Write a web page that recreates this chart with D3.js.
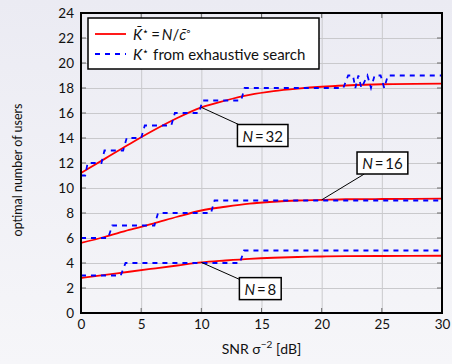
<!DOCTYPE html>
<html>
<head>
<meta charset="utf-8">
<script src="https://cdn.jsdelivr.net/npm/d3@7"></script>
<style>
  html, body { margin: 0; padding: 0; }
  body { width: 452px; height: 364px; overflow: hidden; }
  svg { display: block; }
  text { font-family: Lato, "Liberation Sans", sans-serif; fill: #111; }
</style>
</head>
<body>
<svg id="chart" width="452" height="364"></svg>
<script>
// ---------- data ----------
const xTickValues = [0, 5, 10, 15, 20, 25, 30];
const yTickValues = [0, 2, 4, 6, 8, 10, 12, 14, 16, 18, 20, 22, 24];

// analytic approximation  K̄* = N / c̄°  (red, smooth)
const snrSmooth = [0, 2, 4, 6, 8, 10, 12, 14, 16, 18, 20, 22, 25, 30];
const kbar32 = [11.2, 12.35, 13.5, 14.6, 15.6, 16.45, 17.0, 17.45, 17.75, 17.95, 18.1, 18.2, 18.3, 18.35];
const kbar16 = [5.6, 6.1, 6.65, 7.15, 7.7, 8.2, 8.5, 8.75, 8.9, 9.0, 9.05, 9.1, 9.12, 9.15];
const kbar8  = [2.8, 3.05, 3.3, 3.55, 3.8, 4.05, 4.2, 4.33, 4.42, 4.48, 4.52, 4.55, 4.56, 4.58];

// exhaustive search K* (blue, dashed step curves)
const snr32 = [0, 0.35, 0.55, 1.7, 1.95, 3.5, 3.8, 5.0, 5.3, 7.5, 7.8, 9.8, 10.1, 13.3, 13.6, 21.8, 22.2, 22.6, 22.8, 23.05, 23.3, 23.8, 24.1, 24.4, 24.9, 25.2, 25.5, 30];
const kstar32 = [11, 11, 12, 12, 13, 13, 14, 14, 15, 15, 16, 16, 17, 17, 18, 18, 19, 19, 18, 19, 18, 19, 18, 19, 19, 18, 19, 19];
const snr16 = [0, 2.25, 2.6, 6.1, 6.4, 10.8, 11.1, 30];
const kstar16 = [6, 6, 7, 7, 8, 8, 9, 9];
const snr8 = [0, 3.3, 3.7, 13.2, 13.55, 30];
const kstar8 = [3, 3, 4, 4, 5, 5];

// annotation labels
const labelNames = ["32", "16", "8"];
const labelAnchorSnr = [10, 20, 10];      // point on the red curve
const labelAnchorK = [16.45, 9.05, 4.05];
const labelBoxSnr = [15.1, 25.05, 14.9];  // centre of label box
const labelBoxK = [14.2, 12.0, 1.95];

// ---------- layout ----------
const svg = d3.select("#chart");
const L = 81, R = 442, T = 13, B = 313;
const x = d3.scaleLinear().domain([0, 30]).range([L, R]);
const y = d3.scaleLinear().domain([0, 24]).range([B, T]);

// background gradient
const defs = svg.append("defs");
const grad = defs.append("linearGradient").attr("id", "bg").attr("x1", 0).attr("y1", 0).attr("x2", 0).attr("y2", 1);
grad.append("stop").attr("offset", "0%").attr("stop-color", "#ebebf3");
grad.append("stop").attr("offset", "100%").attr("stop-color", "#f6f6f9");
svg.append("rect").attr("width", 452).attr("height", 364).attr("fill", "url(#bg)");

// grid
const gridX = svg.append("g").attr("transform", `translate(0,${B})`)
  .call(d3.axisBottom(x).tickValues(xTickValues).tickSize(-(B - T)).tickFormat(""));
const gridY = svg.append("g").attr("transform", `translate(${L},0)`)
  .call(d3.axisLeft(y).tickValues(yTickValues).tickSize(-(R - L)).tickFormat(""));
[gridX, gridY].forEach(g => {
  g.select(".domain").remove();
  g.selectAll("line").attr("stroke", "#c9c9cc").attr("stroke-width", 1);
});

// inward ticks on all sides
const tk = 5;
const tickG = svg.append("g").attr("stroke", "#6a6a6a").attr("stroke-width", 1);
xTickValues.forEach(v => {
  tickG.append("line").attr("x1", x(v)).attr("x2", x(v)).attr("y1", B).attr("y2", B - tk);
  tickG.append("line").attr("x1", x(v)).attr("x2", x(v)).attr("y1", T).attr("y2", T + tk);
});
yTickValues.forEach(v => {
  tickG.append("line").attr("y1", y(v)).attr("y2", y(v)).attr("x1", L).attr("x2", L + tk);
  tickG.append("line").attr("y1", y(v)).attr("y2", y(v)).attr("x1", R).attr("x2", R - tk);
});

// tick labels
const axB = svg.append("g").attr("transform", `translate(0,${B})`)
  .call(d3.axisBottom(x).tickValues(xTickValues).tickSize(0).tickPadding(6));
const axL = svg.append("g").attr("transform", `translate(${L},0)`)
  .call(d3.axisLeft(y).tickValues(yTickValues).tickSize(0).tickPadding(7));
[axB, axL].forEach(g => {
  g.select(".domain").remove();
  g.selectAll("text").attr("font-family", "Lato, 'Liberation Sans', sans-serif").attr("font-size", 13.5).attr("fill", "#111");
});

// series
const redLine = d3.line().x(d => x(d[0])).y(d => y(d[1])).curve(d3.curveMonotoneX);
const blueLine = d3.line().x(d => x(d[0])).y(d => y(d[1]));
const clip = defs.append("clipPath").attr("id", "clip");
clip.append("rect").attr("x", L).attr("y", T).attr("width", R - L).attr("height", B - T);
const plot = svg.append("g").attr("clip-path", "url(#clip)");

[kbar32, kbar16, kbar8].forEach(ks => {
  plot.append("path").datum(snrSmooth.map((s, i) => [s, ks[i]]))
    .attr("d", redLine).attr("fill", "none").attr("stroke", "#ff0000").attr("stroke-width", 1.8);
});
[[snr32, kstar32], [snr16, kstar16], [snr8, kstar8]].forEach(([xs, ks]) => {
  plot.append("path").datum(xs.map((s, i) => [s, ks[i]]))
    .attr("d", blueLine).attr("fill", "none").attr("stroke", "#0000ff")
    .attr("stroke-width", 1.8).attr("stroke-dasharray", "5,5");
});

// annotations
labelNames.forEach((n, i) => {
  const ax = x(labelAnchorSnr[i]), ay = y(labelAnchorK[i]);
  const bx = x(labelBoxSnr[i]), by = y(labelBoxK[i]);
  const g = svg.append("g");
  const t = g.append("text").attr("x", bx).attr("y", by).attr("text-anchor", "middle")
    .attr("dominant-baseline", "central").attr("font-size", 15);
  t.append("tspan").attr("font-style", "italic").text("N");
  t.append("tspan").text("\u2009=\u2009" + n);
  const bb = t.node().getBBox();
  const w = bb.width + 10, h = 22;
  // connector runs from the anchor toward the box centre, stopping at the box edge
  const dx = ax - bx, dy = ay - by;
  const s = Math.min(Math.abs((w / 2) / dx), Math.abs((h / 2) / dy));
  g.insert("line", "text").attr("x1", ax).attr("y1", ay).attr("x2", bx + s * dx).attr("y2", by + s * dy)
    .attr("stroke", "#000").attr("stroke-width", 1);
  g.insert("rect", "text").attr("x", bx - w / 2).attr("y", by - h / 2).attr("width", w).attr("height", h)
    .attr("fill", "#fff").attr("stroke", "#000").attr("stroke-width", 1.5);
});

// frame
svg.append("rect").attr("x", L).attr("y", T).attr("width", R - L).attr("height", B - T)
  .attr("fill", "none").attr("stroke", "#000").attr("stroke-width", 2);

// legend
const lg = svg.append("g");
lg.append("rect").attr("x", 88).attr("y", 18).attr("width", 231).attr("height", 51)
  .attr("fill", "#fff").attr("stroke", "#000").attr("stroke-width", 1.5);
lg.append("line").attr("x1", 95).attr("x2", 126).attr("y1", 34).attr("y2", 34)
  .attr("stroke", "#ff0000").attr("stroke-width", 1.8);
lg.append("line").attr("x1", 95).attr("x2", 126).attr("y1", 54).attr("y2", 54)
  .attr("stroke", "#0000ff").attr("stroke-width", 1.8).attr("stroke-dasharray", "5,5");
const t1 = lg.append("text").attr("x", 133).attr("y", 39.5).attr("font-size", 15);
t1.append("tspan").attr("font-style", "italic").text("K\u0304");
t1.append("tspan").attr("font-size", 11).attr("dy", -5).text("\u22C6");
t1.append("tspan").attr("dy", 5).text("\u2009=\u2009");
t1.append("tspan").attr("font-style", "italic").text("N");
t1.append("tspan").text("/");
t1.append("tspan").attr("font-style", "italic").text("c\u0304");
t1.append("tspan").attr("font-size", 11).attr("dy", -5).text("\u25E6");
const t2 = lg.append("text").attr("x", 133).attr("y", 59.5).attr("font-size", 15);
t2.append("tspan").attr("font-style", "italic").text("K");
t2.append("tspan").attr("font-size", 11).attr("dy", -5).text("\u22C6");
t2.append("tspan").attr("dy", 5).text(" from exhaustive search");

// axis titles
const xt = svg.append("text").attr("x", (L + R) / 2).attr("y", 354).attr("text-anchor", "middle").attr("font-size", 14);
xt.append("tspan").text("SNR \u03C3");
xt.append("tspan").attr("font-size", 10).attr("dy", -6).text("\u22122");
xt.append("tspan").attr("dy", 6).text(" [dB]");
svg.append("text").attr("transform", "translate(22,170) rotate(-90)")
  .attr("text-anchor", "middle").attr("font-size", 12.5).text("optimal number of users");
</script>
</body>
</html>
